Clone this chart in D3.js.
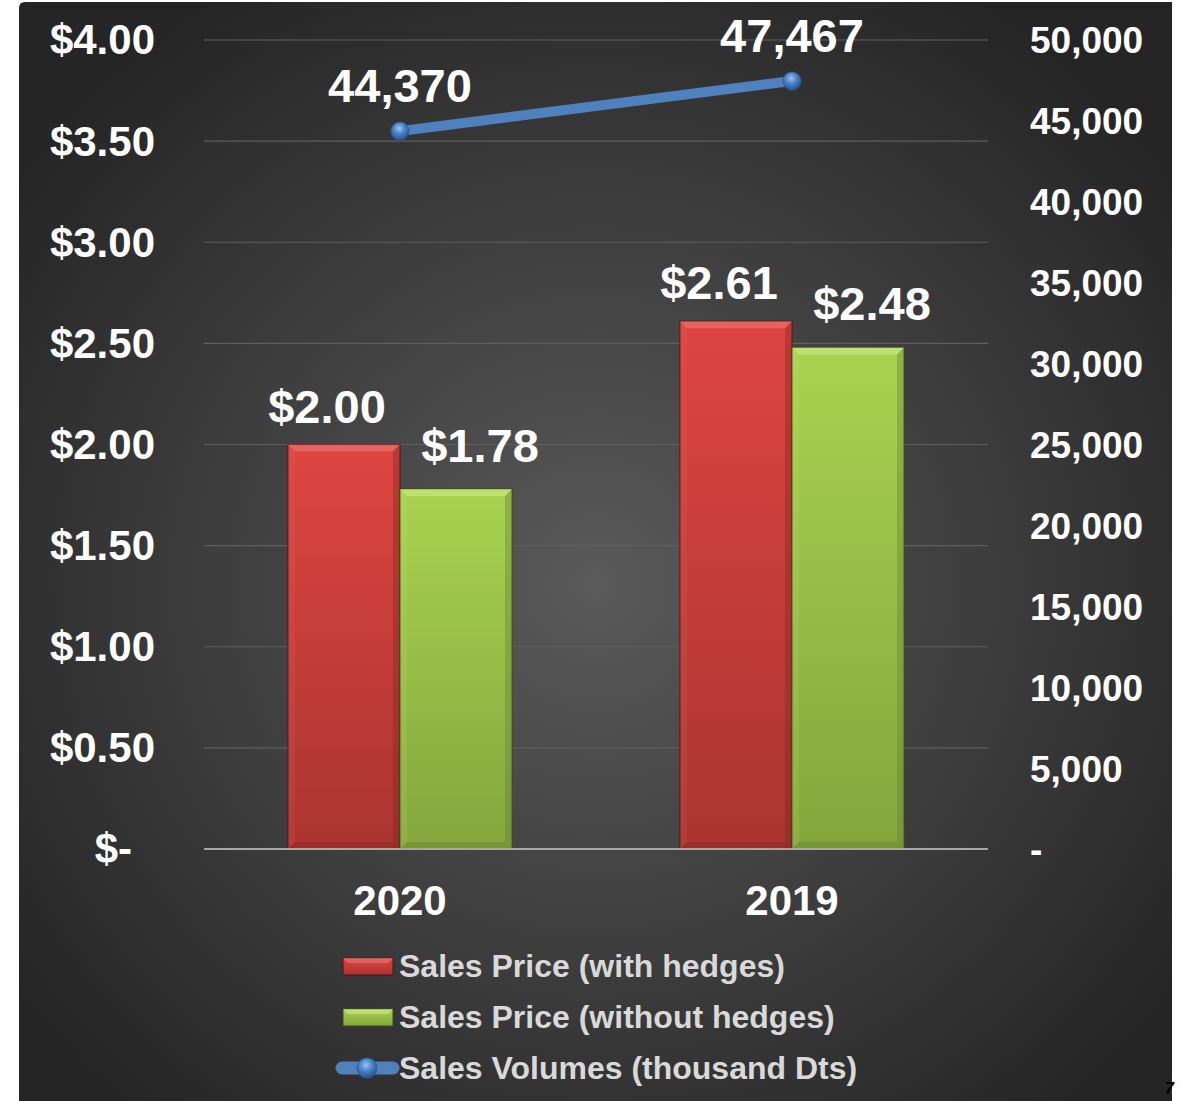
<!DOCTYPE html>
<html>
<head>
<meta charset="utf-8">
<script src="https://cdn.jsdelivr.net/npm/d3@7"></script>
<style>
  html, body { margin: 0; padding: 0; background: #fff; }
  svg { display: block; font-family: "Liberation Sans", Arial, sans-serif; }
</style>
</head>
<body>
<div class="chart"></div>
<script>
"use strict";

const years = ["2020", "2019"];
const priceWithHedges = [2.0, 2.61];
const priceWithoutHedges = [1.78, 2.48];
const salesVolumes = [44370, 47467];
const priceTicks = [0, 0.5, 1, 1.5, 2, 2.5, 3, 3.5, 4];
const volumeTicks = [0, 5000, 10000, 15000, 20000, 25000, 30000, 35000, 40000, 45000, 50000];
const legendLabels = [
  "Sales Price (with hedges)",
  "Sales Price (without hedges)",
  "Sales Volumes (thousand Dts)"
];

const W = 1181, H = 1101;
const plot = { left: 204, right: 988, top: 40, bottom: 849 };

const svg = d3.select(".chart").append("svg")
  .attr("width", W).attr("height", H);

const defs = svg.append("defs");

const bg = defs.append("radialGradient").attr("id", "bg")
  .attr("cx", "50%").attr("cy", "52%").attr("r", "62%");
bg.append("stop").attr("offset", "0%").attr("stop-color", "#5a5a5a");
bg.append("stop").attr("offset", "100%").attr("stop-color", "#252525");

function barGrad(id, top, bottom) {
  const g = defs.append("linearGradient").attr("id", id)
    .attr("x1", 0).attr("y1", 0).attr("x2", 0).attr("y2", 1);
  g.append("stop").attr("offset", "0%").attr("stop-color", top);
  g.append("stop").attr("offset", "100%").attr("stop-color", bottom);
}
barGrad("redGrad", "#de4541", "#aa3431");
barGrad("greenGrad", "#a9d250", "#84a63d");

const ball = defs.append("radialGradient").attr("id", "ball")
  .attr("cx", "45%").attr("cy", "35%").attr("r", "65%");
ball.append("stop").attr("offset", "0%").attr("stop-color", "#9cc2f0");
ball.append("stop").attr("offset", "45%").attr("stop-color", "#4f86cc");
ball.append("stop").attr("offset", "100%").attr("stop-color", "#23508f");

// background panel
svg.append("path")
  .attr("d", `M19,${H + 20}L19,8Q19,2 25,2L1172,2L1172,${H + 20}Z`)
  .attr("fill", "url(#bg)");

// page number
svg.append("text")
  .attr("x", 1165).attr("y", 1094)
  .attr("font-size", "16px").attr("font-weight", 700).attr("font-style", "italic")
  .attr("fill", "#000")
  .text("7");

// scales
const x0 = d3.scaleBand().domain(years).range([plot.left, plot.right]).padding(0);
const x1 = d3.scaleBand().domain(["with", "without"])
  .range([x0.bandwidth() / 2 - 112, x0.bandwidth() / 2 + 112]).padding(0);
const yPrice = d3.scaleLinear().domain([0, 4]).range([plot.bottom, plot.top]);
const yVol = d3.scaleLinear().domain([0, 50000]).range([plot.bottom, plot.top]);

// gridlines
svg.append("g")
  .selectAll("line")
  .data(priceTicks.filter((d) => d > 0))
  .join("line")
  .attr("x1", plot.left).attr("x2", plot.right)
  .attr("y1", (d) => yPrice(d)).attr("y2", (d) => yPrice(d))
  .attr("stroke", "#5e5e5e").attr("stroke-width", 1.2);

// left axis
const yAxisLeft = d3.axisLeft(yPrice)
  .tickValues(priceTicks)
  .tickSize(0)
  .tickPadding(0)
  .tickFormat((d) => (d === 0 ? "$-" : "$" + d.toFixed(2)));

svg.append("g")
  .attr("transform", "translate(155,0)")
  .call(yAxisLeft)
  .call((g) => g.select(".domain").remove())
  .selectAll("text")
  .attr("fill", "#fff")
  .attr("font-family", "Liberation Sans, Arial, sans-serif")
  .attr("font-size", "42px").attr("font-weight", 700)
  .attr("dy", "0.33em")
  .attr("dx", (d) => (d === 0 ? -23 : 0));

// right axis
const yAxisRight = d3.axisRight(yVol)
  .tickValues(volumeTicks)
  .tickSize(0)
  .tickPadding(0)
  .tickFormat((d) => (d === 0 ? "-" : d3.format(",")(d)));

svg.append("g")
  .attr("transform", "translate(1030,0)")
  .call(yAxisRight)
  .call((g) => g.select(".domain").remove())
  .selectAll("text")
  .attr("fill", "#fff")
  .attr("font-family", "Liberation Sans, Arial, sans-serif")
  .attr("font-size", "37px").attr("font-weight", 700)
  .attr("dy", "0.35em");

// bottom axis labels
const xAxis = d3.axisBottom(x0).tickSize(0).tickPadding(0);
svg.append("g")
  .attr("transform", `translate(0,${plot.bottom})`)
  .call(xAxis)
  .call((g) => g.select(".domain").remove())
  .selectAll("text")
  .attr("fill", "#fff")
  .attr("font-family", "Liberation Sans, Arial, sans-serif")
  .attr("font-size", "42px").attr("font-weight", 700)
  .attr("dy", "1.57em");

// bars
const barData = [];
years.forEach((yr, i) => {
  barData.push({ year: yr, key: "with", value: priceWithHedges[i], fill: "url(#redGrad)", hi: "#ef7b76", lo: "#7c2220", edge: "#4a1716" });
  barData.push({ year: yr, key: "without", value: priceWithoutHedges[i], fill: "url(#greenGrad)", hi: "#cfee8a", lo: "#5f7a2a", edge: "#3a4a1a" });
});

const bars = svg.append("g").selectAll("g")
  .data(barData)
  .join("g")
  .attr("transform", (d) => `translate(${x0(d.year) + x1(d.key)},0)`);

const bw = x1.bandwidth();
const bev = 7;

bars.append("rect")
  .attr("x", 0).attr("y", (d) => yPrice(d.value))
  .attr("width", bw).attr("height", (d) => yPrice(0) - yPrice(d.value))
  .attr("fill", (d) => d.fill)
  .attr("stroke", (d) => d.edge).attr("stroke-width", 1);

// bevel: top highlight
bars.append("path")
  .attr("d", (d) => {
    const t = yPrice(d.value);
    return `M0,${t}L${bw},${t}L${bw - bev},${t + bev}L${bev},${t + bev}Z`;
  })
  .attr("fill", (d) => d.hi).attr("opacity", 0.55);

// bevel: sides and bottom shading
bars.append("path")
  .attr("d", (d) => {
    const t = yPrice(d.value), b = yPrice(0);
    return `M${bw},${t}L${bw},${b}L${bw - bev},${b - bev}L${bw - bev},${t + bev}Z`;
  })
  .attr("fill", (d) => d.lo).attr("opacity", 0.35);
bars.append("path")
  .attr("d", (d) => {
    const b = yPrice(0);
    return `M0,${b}L${bw},${b}L${bw - bev},${b - bev}L${bev},${b - bev}Z`;
  })
  .attr("fill", (d) => d.lo).attr("opacity", 0.35);
bars.append("path")
  .attr("d", (d) => {
    const t = yPrice(d.value), b = yPrice(0);
    return `M0,${t}L0,${b}L${bev},${b - bev}L${bev},${t + bev}Z`;
  })
  .attr("fill", (d) => d.hi).attr("opacity", 0.12);

// bar labels
bars.append("text")
  .attr("x", (d) => bw / 2 + (d.key === "with" ? -17 : 24))
  .attr("y", (d) => yPrice(d.value) - (d.key === "with" ? 22 : 27))
  .attr("text-anchor", "middle")
  .attr("fill", "#fff")
  .attr("font-size", "47px").attr("font-weight", 700)
  .text((d) => "$" + d.value.toFixed(2));

// baseline
svg.append("line")
  .attr("x1", plot.left).attr("x2", plot.right)
  .attr("y1", yPrice(0)).attr("y2", yPrice(0))
  .attr("stroke", "#a8a8a8").attr("stroke-width", 2);

// volume line
const volData = years.map((yr, i) => ({ year: yr, value: salesVolumes[i] }));
const line = d3.line()
  .x((d) => x0(d.year) + x0.bandwidth() / 2)
  .y((d) => yVol(d.value));

svg.append("path")
  .datum(volData)
  .attr("d", line)
  .attr("fill", "none")
  .attr("stroke", "#4f81bd")
  .attr("stroke-width", 10);

svg.append("g").selectAll("circle")
  .data(volData)
  .join("circle")
  .attr("cx", (d) => x0(d.year) + x0.bandwidth() / 2)
  .attr("cy", (d) => yVol(d.value))
  .attr("r", 9)
  .attr("fill", "url(#ball)")
  .attr("stroke", "#2f5f9c").attr("stroke-width", 1);

svg.append("g").selectAll("text")
  .data(volData)
  .join("text")
  .attr("x", (d) => x0(d.year) + x0.bandwidth() / 2)
  .attr("y", (d) => yVol(d.value) - 29)
  .attr("text-anchor", "middle")
  .attr("fill", "#fff")
  .attr("font-size", "47px").attr("font-weight", 700)
  .text((d) => d3.format(",")(d.value));

// legend
const legend = svg.append("g");
const rowY = [966, 1017, 1068];

const sw = [
  { fill: "url(#redGrad)", hi: "#ef7b76", edge: "#4a1716" },
  { fill: "url(#greenGrad)", hi: "#cfee8a", edge: "#3a4a1a" }
];
sw.forEach((s, i) => {
  legend.append("rect")
    .attr("x", 343).attr("y", rowY[i] - 8)
    .attr("width", 50).attr("height", 17)
    .attr("fill", s.fill).attr("stroke", s.edge).attr("stroke-width", 1);
  legend.append("path")
    .attr("d", `M343,${rowY[i] - 8}L393,${rowY[i] - 8}L388,${rowY[i] - 3}L348,${rowY[i] - 3}Z`)
    .attr("fill", s.hi).attr("opacity", 0.55);
});

legend.append("line")
  .attr("x1", 342).attr("x2", 393)
  .attr("y1", rowY[2]).attr("y2", rowY[2])
  .attr("stroke", "#4f81bd").attr("stroke-width", 13)
  .attr("stroke-linecap", "round");
legend.append("circle")
  .attr("cx", 367).attr("cy", rowY[2]).attr("r", 10)
  .attr("fill", "url(#ball)").attr("stroke", "#2f5f9c");

legend.selectAll("text")
  .data(legendLabels)
  .join("text")
  .attr("x", 399)
  .attr("y", (d, i) => rowY[i] + 11)
  .attr("fill", "#d9d9d9")
  .attr("font-size", "32px").attr("font-weight", 700)
  .text((d) => d);
</script>
</body>
</html>
